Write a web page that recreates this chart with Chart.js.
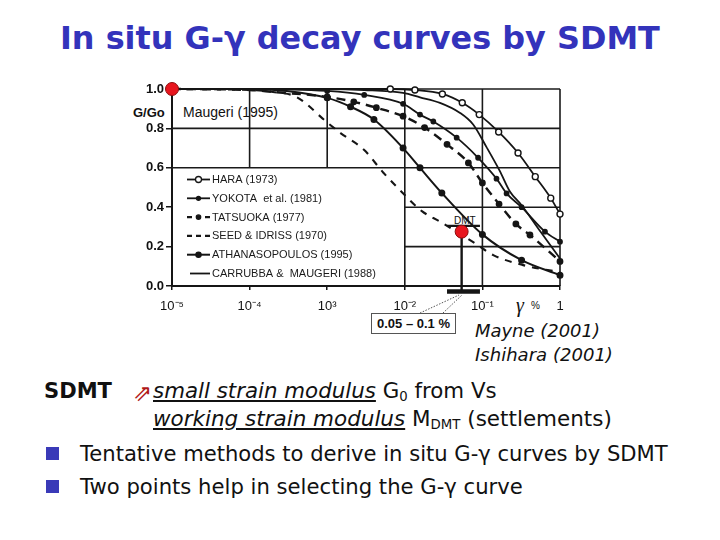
<!DOCTYPE html>
<html><head><meta charset="utf-8">
<script src="https://cdn.jsdelivr.net/npm/chart.js@4.4.1/dist/chart.umd.min.js"></script>
<style>
html,body{margin:0;padding:0;background:#fff;width:720px;height:540px;overflow:hidden;}
#wrap{position:relative;width:720px;height:540px;}
#c{position:absolute;left:0;top:0;}
.t{position:absolute;white-space:nowrap;line-height:1;}
.ds{font-family:'DejaVu Sans','Noto Sans',sans-serif;}
.ar{font-family:'Liberation Sans',Arial,sans-serif;}
.u{text-decoration:underline;text-decoration-thickness:1.5px;text-underline-offset:2px;}
.i{font-style:italic;}
.sq{position:absolute;width:13px;height:13px;background:#3a3ab8;}
sub{font-size:62%;vertical-align:-0.25em;line-height:0;}
#box{position:absolute;left:371px;top:313px;width:83px;height:19px;border:1px solid #555;background:#fff;
 font:bold 13px 'Liberation Sans',Arial,sans-serif;display:flex;align-items:center;justify-content:center;color:#111;}
</style></head><body>
<div id="wrap">
<div class="t ds" id="title" style="font-weight:bold;font-size:28px;color:#3333bb">In situ G-γ decay curves by SDMT</div>
<div class="t ar" id="glab" style="font-weight:bold;font-size:13px;color:#111">G/Go</div>
<div class="t ar" id="maug" style="font-size:14px;color:#111">Maugeri (1995)</div>
<div class="t" id="gam" style="font-family:'Liberation Serif','DejaVu Serif',serif;font-style:italic;font-size:20px;color:#111">γ</div>
<div class="t ar" id="pct" style="font-size:10px;color:#111">%</div>
<div class="t ar" id="dmtlab" style="font-size:10px;color:#111">DMT</div>
<div id="box">0.05 – 0.1 %</div>
<svg style="position:absolute;left:0;top:0" width="720" height="540">
 <line x1="420" y1="313" x2="459" y2="295" stroke="#555" stroke-width="1" stroke-dasharray="1.5,1.5"/>
 <line x1="443" y1="313" x2="462" y2="295" stroke="#555" stroke-width="1" stroke-dasharray="1.5,1.5"/>
</svg>
<div class="t ds i" id="mayne" style="font-size:17px;color:#111">Mayne (2001)</div>
<div class="t ds i" id="ishi" style="font-size:17px;color:#111">Ishihara (2001)</div>
<div class="t ds" id="sdmt" style="font-weight:bold;font-size:21px;color:#111">SDMT</div>
<div class="t" id="arrow" style="font-family:'DejaVu Sans',sans-serif;font-size:23px;color:#b01818">⇗</div>
<div class="t ds" id="l1" style="font-size:20px;color:#111"><span class="u i">small strain modulus</span> G<sub>0</sub> from Vs</div>
<div class="t ds" id="l2" style="font-size:20px;color:#111"><span class="u i">working strain modulus</span> M<sub>DMT</sub> (settlements)</div>
<div class="sq" style="left:46px;top:447px"></div>
<div class="sq" style="left:46px;top:480px"></div>
<div class="t ds" id="b1" style="font-size:20px;color:#111">Tentative methods to derive in situ G-γ curves by SDMT</div>
<div class="t ds" id="b2" style="font-size:20px;color:#111">Two points help in selecting the G-γ curve</div>
<canvas id="c" width="720" height="540"></canvas>
</div>
<script>
// ---------------- DATA ----------------
const seriesNames = ['HARA (1973)','YOKOTA  et al. (1981)','TATSUOKA (1977)','SEED & IDRISS (1970)','ATHANASOPOULOS (1995)','CARRUBBA &  MAUGERI (1988)'];

const haraStrain = [1e-5, 6.5e-3, 1.35e-2, 3.05e-2, 5.5e-2, 9.1e-2, 0.162, 0.288, 0.48, 0.76, 1.0];
const haraGGo    = [1.0, 1.0, 0.995, 0.975, 0.93, 0.87, 0.782, 0.675, 0.555, 0.446, 0.365];

const yokotaStrain = [1e-5, 1e-4, 1e-3, 3e-3, 9.5e-3, 0.0157, 0.0233, 0.0466, 0.088, 0.152, 0.205, 0.32, 0.64, 1.0];
const yokotaGGo    = [1.0, 1.0, 0.99, 0.97, 0.925, 0.87, 0.835, 0.753, 0.651, 0.545, 0.47, 0.40, 0.276, 0.225];

const tatsuokaStrain = [1e-5, 1e-4, 2e-4, 1e-3, 2.2e-3, 4.3e-3, 9.5e-3, 0.018, 0.035, 0.066, 0.1, 0.164, 0.27, 0.41, 1.0];
const tatsuokaGGo    = [1.0, 0.995, 0.985, 0.96, 0.935, 0.905, 0.862, 0.804, 0.719, 0.625, 0.523, 0.416, 0.315, 0.259, 0.125];

const seedStrain = [1e-5, 1e-4, 2e-4, 4e-4, 1e-3, 1.5e-3, 3e-3, 5.3e-3, 9e-3, 0.0166, 0.0284, 0.08, 0.138, 0.335, 1.0];
const seedGGo    = [1.0, 0.995, 0.985, 0.96, 0.83, 0.775, 0.69, 0.575, 0.48, 0.38, 0.327, 0.217, 0.157, 0.106, 0.07];

const athanStrain = [1e-5, 1e-4, 3e-4, 1e-3, 2e-3, 4e-3, 9.5e-3, 0.0157, 0.03, 0.1, 0.32, 1.0];
const athanGGo    = [1.0, 1.0, 0.99, 0.955, 0.91, 0.845, 0.70, 0.60, 0.472, 0.262, 0.131, 0.055];

const carrStrain = [1e-5, 1e-3, 3e-3, 9.5e-3, 0.0157, 0.0284, 0.051, 0.076, 0.113, 0.168, 0.226, 0.32, 0.55, 1.0];
const carrGGo    = [1.0, 1.0, 0.995, 0.98, 0.958, 0.93, 0.88, 0.82, 0.705, 0.583, 0.48, 0.41, 0.28, 0.14];

// reference point (G0) and SDMT point
const redStrain = [1e-5, 0.054];
const redGGo    = [1.0, 0.276];
const dmtRange  = [0.035, 0.093];   // strain range bar (0.05 – 0.1 %)
const dmtBarGGo = 0.305;

const xTickValues = [1e-5, 1e-4, 1e-3, 1e-2, 1e-1, 1];
const xTickLabels = ['10⁻⁵','10⁻⁴','10³','10⁻²','10⁻¹','1'];
const yTickValues = [0, 0.2, 0.4, 0.6, 0.8, 1.0];
const yTickLabels = ['0.0','0.2','0.4','0.6','0.8','1.0'];

// partial grid (value space)
const gridH = [[1.0,1e-5,1],[0.8,1e-5,1],[0.6,1e-5,1],[0.4,1e-2,1],[0.2,1e-2,1]];
const gridV = [[1e-4,0.6,1],[1e-3,0.6,1],[1e-2,0,1],[1e-1,0,1],[1,0,1]];

// ---------------- CHART ----------------
const pts = (xs, ys) => xs.map((x,i)=>({x:x, y:ys[i]}));
const INK = '#151515';
function series(idx, xs, ys, extra){
  return Object.assign({
    label: seriesNames[idx], data: pts(xs, ys), showLine: true, borderColor: INK, borderWidth: 1.8,
    backgroundColor: INK, pointBackgroundColor: INK, pointBorderColor: INK,
    pointRadius: 0, pointHoverRadius: 0, cubicInterpolationMode: 'monotone', fill: false, clip: 4
  }, extra);
}
const mr = (r, start) => (c => c.dataIndex >= start ? r : 0);
const datasets = [
  {label:'points', data: pts(redStrain, redGGo), showLine:false, pointRadius:6.5, pointHoverRadius:6.5,
   pointBackgroundColor:'#e8161e', pointBorderColor:'#8c0c0c', pointBorderWidth:1, clip:false, isRef:true},
  series(0, haraStrain, haraGGo, {pointRadius: mr(3,1), pointBackgroundColor:'#fff', pointBorderWidth:1.4, legendR:3, legendFill:'#fff'}),
  series(1, yokotaStrain, yokotaGGo, {pointRadius: mr(2,2), legendR:2}),
  series(2, tatsuokaStrain, tatsuokaGGo, {borderDash:[9,6], borderWidth:2.4, pointRadius: mr(2.2,3), legendR:2.2}),
  series(3, seedStrain, seedGGo, {borderDash:[7,7], borderWidth:2.1}),
  series(4, athanStrain, athanGGo, {pointRadius: mr(2.5,3), borderWidth:2, legendR:2.6}),
  series(5, carrStrain, carrGGo, {})
];

const gridPlugin = {
  id:'partialGrid',
  beforeDatasetsDraw(chart){
    const {ctx, scales:{x, y}} = chart;
    ctx.save(); ctx.strokeStyle = '#1a1a1a'; ctx.lineWidth = 1.6;
    gridH.forEach(([v,a,b])=>{ const py=y.getPixelForValue(v); ctx.beginPath(); ctx.moveTo(x.getPixelForValue(a),py); ctx.lineTo(x.getPixelForValue(b),py); ctx.stroke(); });
    gridV.forEach(([v,a,b])=>{ const px=x.getPixelForValue(v); ctx.beginPath(); ctx.moveTo(px,y.getPixelForValue(a)); ctx.lineTo(px,y.getPixelForValue(b)); ctx.stroke(); });
    // SDMT annotation: vertical stem, upper bar, strain-range bar
    const dx = x.getPixelForValue(redStrain[1]);
    const x0 = x.getPixelForValue(dmtRange[0]), x1 = x.getPixelForValue(dmtRange[1]);
    const yb = y.getPixelForValue(dmtBarGGo);
    const yBottom = chart.chartArea.bottom + 5.5;
    ctx.strokeStyle = INK; ctx.lineWidth = 2.4;
    ctx.beginPath(); ctx.moveTo(dx, y.getPixelForValue(redGGo[1])); ctx.lineTo(dx, yBottom); ctx.stroke();
    ctx.beginPath(); ctx.moveTo(x0, yb); ctx.lineTo(x1, yb); ctx.stroke();
    ctx.lineWidth = 4.5; ctx.beginPath(); ctx.moveTo(x0, yBottom); ctx.lineTo(x1, yBottom); ctx.stroke();
    ctx.restore();
  }
};

const legendPlugin = {
  id:'inLegend',
  afterDatasetsDraw(chart){
    const {ctx, chartArea} = chart;
    ctx.save();
    ctx.font = '11px "Liberation Sans", Arial, sans-serif';
    ctx.textBaseline = 'middle'; ctx.fillStyle = '#1a1a1a';
    let k = 0;
    chart.data.datasets.forEach(ds=>{
      if (ds.isRef) return;
      const yy = chartArea.top + 90.5 + k*18.8;
      const xa = chartArea.left + (k===5 ? 18 : 15), xb = chartArea.left + 38;
      ctx.strokeStyle = INK; ctx.lineWidth = ds.borderWidth; ctx.setLineDash(ds.borderDash ? [5,4] : []);
      ctx.beginPath(); ctx.moveTo(xa, yy); ctx.lineTo(xb, yy); ctx.stroke();
      ctx.setLineDash([]);
      if (ds.legendR){
        ctx.beginPath(); ctx.arc((xa+xb)/2, yy, ds.legendR, 0, Math.PI*2);
        ctx.fillStyle = ds.legendFill || INK; ctx.fill(); ctx.lineWidth = 1.3; ctx.stroke();
      }
      ctx.fillStyle = '#1a1a1a';
      ctx.fillText(ds.label, chartArea.left + 40, yy + 0.5);
      k++;
    });
    ctx.restore();
  }
};

new Chart(document.getElementById('c'), {
  type:'scatter',
  data:{ datasets },
  options:{
    responsive:false, animation:false, devicePixelRatio: 1,
    layout:{ padding:{ left:0, top:89, right:160, bottom:224 } },
    plugins:{ legend:{display:false}, tooltip:{enabled:false} },
    scales:{
      x:{ type:'logarithmic', min:1e-5, max:1,
          afterBuildTicks: s => { s.ticks = xTickValues.map(v=>({value:v})); },
          afterFit: s => { s.height = 30; },
          border:{display:true, color:INK, width:2},
          grid:{display:true, drawOnChartArea:false, drawTicks:true, tickLength:4, color:INK, lineWidth:1.5},
          ticks:{ autoSkip:false, maxRotation:0, padding:9, color:'#111',
                  font:{family:'"Liberation Sans", Arial, sans-serif', size:13},
                  callback:(v,i)=> xTickLabels[i] } },
      y:{ type:'linear', min:0, max:1,
          afterBuildTicks: s => { s.ticks = yTickValues.map(v=>({value:v})); },
          afterFit: s => { s.width = 172; },
          border:{display:true, color:INK, width:2},
          grid:{display:true, drawOnChartArea:false, drawTicks:true, tickLength:6, color:INK, lineWidth:1.5},
          ticks:{ padding:2, color:'#111',
                  font:{family:'"Liberation Sans", Arial, sans-serif', size:13, weight:'bold'},
                  callback:(v,i)=> yTickLabels[i] } }
    }
  },
  plugins:[gridPlugin, legendPlugin]
});

// ---------------- TEXT LAYOUT ----------------
function fit(id, w){ const el=document.getElementById(id); const cw=el.getBoundingClientRect().width;
  const fs=parseFloat(getComputedStyle(el).fontSize); el.style.fontSize=(fs*w/cw)+'px'; }
function place(id, left, baseline){ const el=document.getElementById(id);
  const p=document.createElement('span'); p.style.cssText='display:inline-block;width:0;height:0;vertical-align:baseline';
  el.appendChild(p); const off=p.getBoundingClientRect().top-el.getBoundingClientRect().top; el.removeChild(p);
  el.style.left=left+'px'; el.style.top=(baseline-off)+'px'; }
fit('title',600); place('title',60,49);
place('glab',133,117); place('maug',183,117);
place('gam',516,312); place('pct',531,309);
place('dmtlab',454,224);
fit('mayne',125); place('mayne',475,337);
fit('ishi',138); place('ishi',475,361);
fit('sdmt',68); place('sdmt',44,398);
place('arrow',133,401);
fit('l1',344); place('l1',153,398);
fit('l2',459); place('l2',153,426);
fit('b1',588); place('b1',80,461);
fit('b2',443); place('b2',80,494);
</script>
</body></html>
